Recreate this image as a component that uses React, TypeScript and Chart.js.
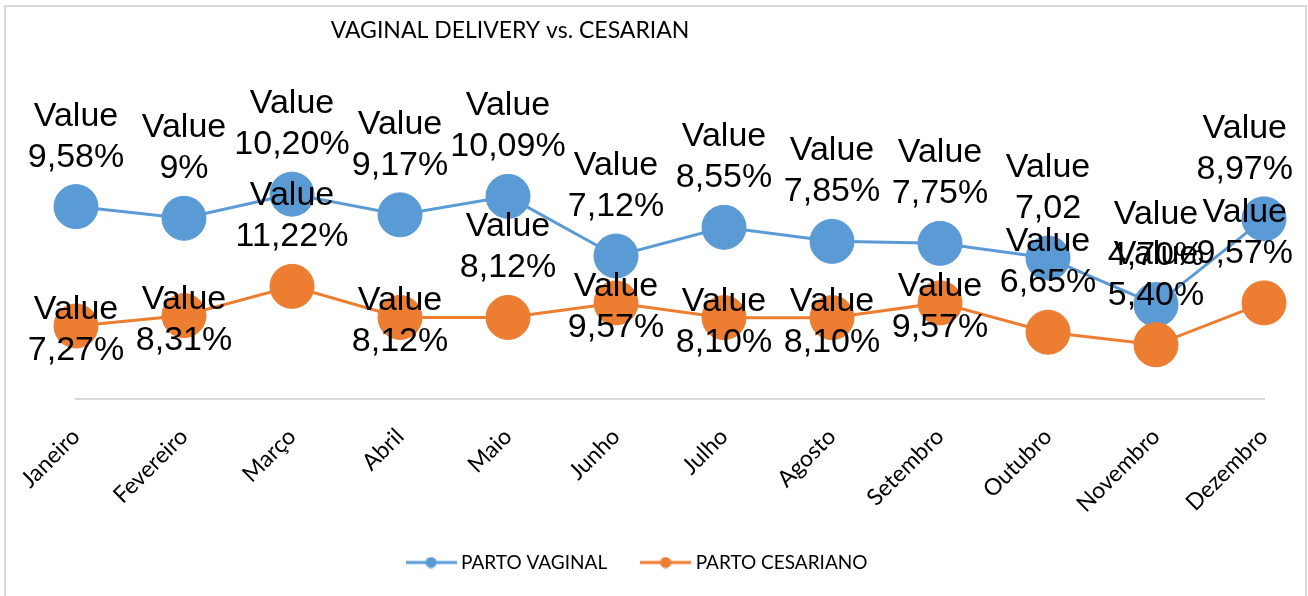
import React, { useEffect, useRef } from "react";
import { Chart, registerables } from "chart.js";

Chart.register(...registerables);

const chartTitle = "VAGINAL DELIVERY vs. CESARIAN";
const months = ["Janeiro", "Fevereiro", "Março", "Abril", "Maio", "Junho", "Julho", "Agosto", "Setembro", "Outubro", "Novembro", "Dezembro"];
const seriesNames = ["PARTO VAGINAL", "PARTO CESARIANO"];
const vaginalValues = [9.58, 9, 10.2, 9.17, 10.09, 7.12, 8.55, 7.85, 7.75, 7.02, 4.7, 8.97];
const cesareanValues = [7.27, 8.31, 11.22, 8.12, 8.12, 9.57, 8.1, 8.1, 9.57, 6.65, 5.4, 9.57];
const vaginalLabels = ["9,58%", "9%", "10,20%", "9,17%", "10,09%", "7,12%", "8,55%", "7,85%", "7,75%", "7,02", "4,70%", "8,97%"];
const cesareanLabels = ["7,27%", "8,31%", "11,22%", "8,12%", "8,12%", "9,57%", "8,10%", "8,10%", "9,57%", "6,65%", "5,40%", "9,57%"];
const vaginalLabelPlacement = ["above", "above", "above", "above", "above", "above", "above", "above", "above", "above", "above", "above"];
const cesareanLabelPlacement = ["center", "center", "above", "center", "above", "center", "center", "center", "center", "above", "above", "above"];

const BLUE = "#5B9BD5";
const ORANGE = "#ED7D31";
const valueLabelSets = [vaginalLabels, cesareanLabels];
const placementSets = [vaginalLabelPlacement, cesareanLabelPlacement];

function makeMarker(color: string) {
  const c = document.createElement("canvas");
  c.width = 51;
  c.height = 12;
  const g = c.getContext("2d")!;
  g.strokeStyle = color;
  g.lineWidth = 3;
  g.beginPath();
  g.moveTo(0, 6);
  g.lineTo(51, 6);
  g.stroke();
  g.fillStyle = color;
  g.beginPath();
  g.arc(25.5, 6, 5.5, 0, Math.PI * 2);
  g.fill();
  return c;
}

const decorPlugin = {
  id: "decor",
  beforeDraw(chart: any) {
    const ctx = chart.ctx;
    ctx.save();
    ctx.fillStyle = "#ffffff";
    ctx.fillRect(0, 0, chart.width, chart.height);
    ctx.strokeStyle = "#d9d9d9";
    ctx.lineWidth = 2;
    ctx.strokeRect(5, 6, chart.width - 7, chart.height + 20);
    ctx.fillStyle = "#000000";
    ctx.font = "23px Lato, 'Open Sans', sans-serif";
    ctx.textAlign = "center";
    ctx.textBaseline = "alphabetic";
    ctx.fillText(chartTitle, 510, 38);
    ctx.restore();
  },
  afterDatasetsDraw(chart: any) {
    const ctx = chart.ctx;
    ctx.save();
    ctx.font = "34px 'Liberation Sans', Arial, sans-serif";
    ctx.fillStyle = "#000000";
    ctx.textAlign = "center";
    ctx.textBaseline = "alphabetic";
    const maxRight = chart.width - 15;
    chart.data.datasets.forEach((_ds: any, di: number) => {
      const meta = chart.getDatasetMeta(di);
      const texts = valueLabelSets[di];
      const place = placementSets[di];
      meta.data.forEach((pt: any, i: number) => {
        const base = place[i] === "above" ? pt.y - 81 : pt.y - 7;
        const w = Math.max(ctx.measureText("Value").width, ctx.measureText(texts[i]).width);
        const cx = Math.min(pt.x, maxRight - w / 2);
        ctx.fillText("Value", cx, base);
        ctx.fillText(texts[i], cx, base + 41);
      });
    });
    ctx.restore();
  },
};

export default function App() {
  const ref = useRef<HTMLCanvasElement>(null);
  useEffect(() => {
    const canvas = ref.current!;
    const markers = [makeMarker(BLUE), makeMarker(ORANGE)];
    const colors = [BLUE, ORANGE];
    const chart = new Chart(canvas, {
      type: "line",
      data: {
        labels: months,
        datasets: [
          {
            label: seriesNames[0],
            data: vaginalValues,
            borderColor: BLUE,
            backgroundColor: BLUE,
            pointBackgroundColor: BLUE,
            pointBorderColor: BLUE,
            pointRadius: 22,
            pointHoverRadius: 22,
            pointBorderWidth: 1,
            borderWidth: 3,
            tension: 0,
            yAxisID: "y",
            order: 2,
            clip: false,
          } as any,
          {
            label: seriesNames[1],
            data: cesareanValues,
            borderColor: ORANGE,
            backgroundColor: ORANGE,
            pointBackgroundColor: ORANGE,
            pointBorderColor: ORANGE,
            pointRadius: 22,
            pointHoverRadius: 22,
            pointBorderWidth: 1,
            borderWidth: 3,
            tension: 0,
            yAxisID: "y2",
            order: 1,
            clip: false,
          } as any,
        ],
      },
      options: {
        responsive: false,
        animation: false,
        devicePixelRatio: 1,
        events: [],
        layout: { padding: { left: 14, right: 44, top: 158, bottom: 14 } },
        scales: {
          x: {
            type: "category",
            offset: false,
            grid: { display: false, drawTicks: false },
            border: { display: true, color: "#d9d9d9", width: 2 },
            ticks: {
              autoSkip: false,
              maxRotation: 45,
              minRotation: 45,
              padding: 24,
              color: "#000000",
              font: { family: "Lato, 'Open Sans', sans-serif", size: 23 },
            },
            afterFit: (scale: any) => {
              scale.height = 116;
            },
          },
          y: {
            position: "left",
            min: 0,
            max: 12,
            display: true,
            grid: { display: false, drawTicks: false },
            border: { display: false },
            ticks: { display: false },
            afterFit: (scale: any) => {
              scale.width = 62;
            },
          },
          y2: {
            position: "right",
            min: 0,
            max: 24,
            display: false,
          },
        },
        plugins: {
          title: { display: false },
          tooltip: { enabled: false },
          legend: {
            display: true,
            position: "bottom",
            align: "center",
            labels: {
              usePointStyle: true,
              pointStyleWidth: 41,
              padding: 38,
              color: "#000000",
              font: { family: "Lato, 'Open Sans', sans-serif", size: 19 },
              generateLabels: () =>
                seriesNames.map((name, i) => ({
                  text: name,
                  fillStyle: colors[i],
                  strokeStyle: colors[i],
                  lineWidth: 0,
                  pointStyle: markers[i] as any,
                  hidden: false,
                  datasetIndex: i,
                  fontColor: "#000000",
                })),
            },
          },
        },
      } as any,
      plugins: [decorPlugin],
    });
    let alive = true;
    if ((document as any).fonts && (document as any).fonts.load) {
      Promise.all([
        (document as any).fonts.load("20px Lato"),
        (document as any).fonts.load("34px 'Liberation Sans'"),
      ]).then(() => {
        if (alive) chart.update();
      }).catch(() => {});
    }
    return () => {
      alive = false;
      chart.destroy();
    };
  }, []);
  return (
    <div style={{ position: "absolute", left: 0, top: 0, width: 1308, height: 596 }}>
      <canvas ref={ref} width={1308} height={596} style={{ display: "block" }} />
    </div>
  );
}
